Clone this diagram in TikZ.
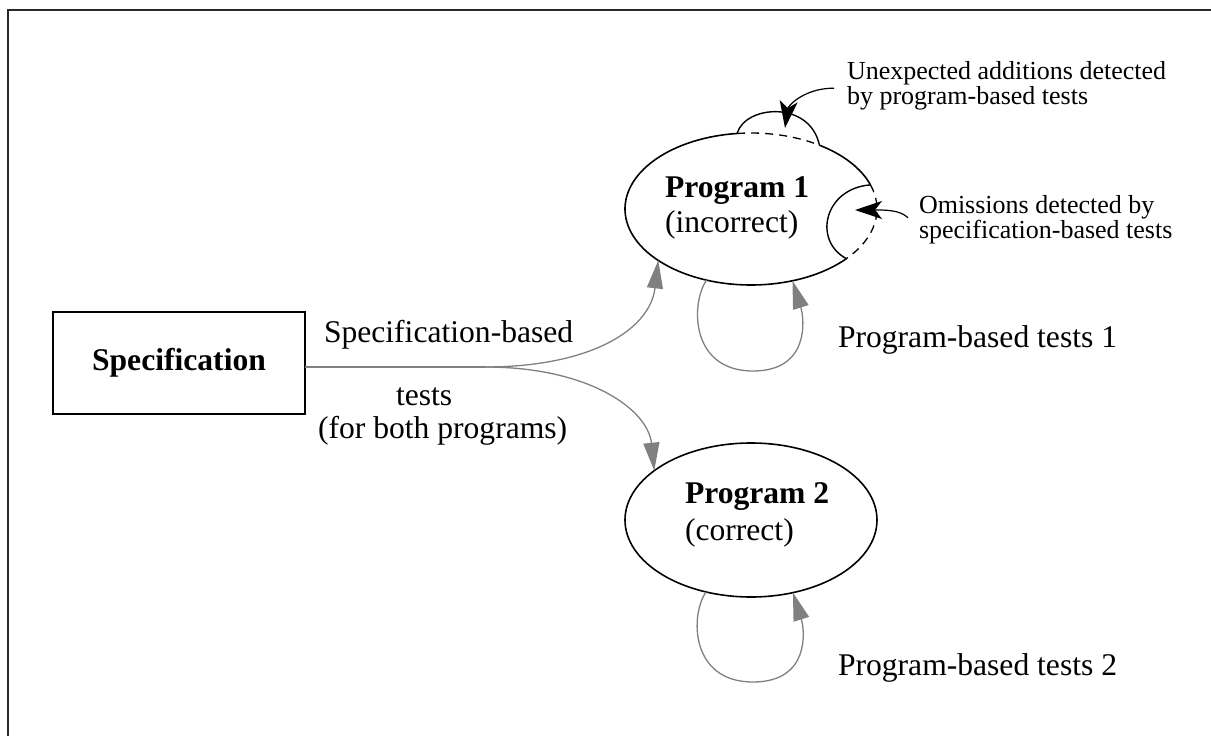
\documentclass[tikz,border=0pt]{standalone}
\usepackage{fontspec}
\setmainfont{Liberation Serif}
\usetikzlibrary{arrows.meta,shapes.geometric}

\definecolor{flowgray}{RGB}{128,128,128}
\definecolor{framegray}{RGB}{40,40,40}

\begin{document}
\begin{tikzpicture}[x=1pt,y=-1pt,
  every node/.style={inner sep=0pt, outer sep=0pt},
  bigtext/.style={font=\fontsize{31.6}{35}\selectfont},
  notetext/.style={font=\fontsize{26}{25.5}\selectfont},
  outline/.style={draw=black, line width=1.6pt},
  gapline/.style={draw=black, line width=1.3pt, dash pattern=on 8pt off 6pt},
  flowline/.style={draw=flowgray, line width=1.3pt},
  flow/.style={flowline, -{Triangle[length=28pt,width=16pt]}},
  note/.style={draw=black, line width=1.2pt, -{Stealth[length=27pt,width=18pt,inset=7pt]}},
  progshape/.style={ellipse, minimum width=252pt, minimum height=#1},
]
\useasboundingbox (0,0) rectangle (1211,736);

% frame
\draw[framegray, line width=2.2pt] (8,736) -- (8,10) -- (1211,10);

% specification box
\node[outline, rectangle, minimum width=252pt, minimum height=102pt, bigtext]
  (spec) at (179,363) {\bfseries Specification};

% the two programs
\node[progshape=152pt] (p1) at (751,209) {};
\node[progshape=154pt, outline] (p2) at (751,520) {};

% outline of program 1: solid border, dashed where parts are added / omitted
\draw[outline] (p1.center) ++(-57.1:126 and 76)
  arc[start angle=-57.1, end angle=-18.5, x radius=126, y radius=76];
\draw[outline] (p1.center) ++(40.8:126 and 76)
  arc[start angle=40.8, end angle=263.7, x radius=126, y radius=76];
\draw[gapline] (p1.center) ++(263.7:126 and 76)
  arc[start angle=263.7, end angle=302.9, x radius=126, y radius=76];
\draw[gapline] (p1.center) ++(-18.5:126 and 76)
  arc[start angle=-18.5, end angle=40.8, x radius=126, y radius=76];
% unexpected addition (bump on top)
\draw[outline, line width=1.4pt] (737.1,133.5) .. controls (745,105) and (810,100) .. (819.4,145.2);
% omission (notch on the right)
\draw[outline, line width=1.4pt] (870.5,184.9) .. controls (825,188) and (812,240) .. (846.4,258.7);

% program texts
\node[bigtext, anchor=base west] (p1text) at (665,197)
  {\begin{tabular}[t]{@{}l@{}}\textbf{Program 1}\\(incorrect)\end{tabular}};
\node[font=\fontsize{31.6}{37}\selectfont, anchor=base west] (p2text) at (685,503)
  {\begin{tabular}[t]{@{}l@{}}\textbf{Program 2}\\(correct)\end{tabular}};

% specification-based tests
\coordinate (split) at (485,367);
\draw[flowline] (spec.east |- split) -- (split);
\draw[flow] (split) .. controls (590,367) and (650,330) .. (p1.209);
\draw[flow] (split) .. controls (590,367) and (648,410) .. (p2.153);

\node[bigtext, anchor=base west] (sbt1) at (324,342) {Specification-based};
\node[bigtext, anchor=base west] (sbt2) at (396,405) {tests};
\node[bigtext, anchor=base west] (sbt3) at (318,438) {(for both programs)};

% program-based test loops
\coordinate (lb1) at (753,371);
\coordinate (lb2) at (753,682);
\draw[flow] (p1.238) .. controls +(-16,23) and +(-63,0) .. (lb1)
  .. controls +(57,0) and +(12,38) .. (p1.300);
\draw[flow] (p2.238) .. controls +(-16,23) and +(-63,0) .. (lb2)
  .. controls +(57,0) and +(12,38) .. (p2.300);

\node[bigtext, anchor=base west] (pbt1) at (838,347) {Program-based tests 1};
\node[bigtext, anchor=base west] (pbt2) at (838,675) {Program-based tests 2};

% annotations
\node[notetext, anchor=base west] (ann1) at (847,79)
  {\begin{tabular}[t]{@{}l@{}}Unexpected additions detected\\by program-based tests\end{tabular}};
\node[notetext, anchor=base west] (ann2) at (919,213)
  {\begin{tabular}[t]{@{}l@{}}Omissions detected by\\specification-based tests\end{tabular}};

\coordinate (bumpmid) at (785,128);
\coordinate (notchmid) at (855,210);
\draw[note] ([xshift=-13pt, yshift=-1.5pt]ann1.west) .. controls +(-30,0) and +(3,-22) .. (bumpmid);
\draw[note] ([xshift=-11pt, yshift=3pt]ann2.west) .. controls +(-8,-8) and +(30,0) .. (notchmid);
\end{tikzpicture}
\end{document}
